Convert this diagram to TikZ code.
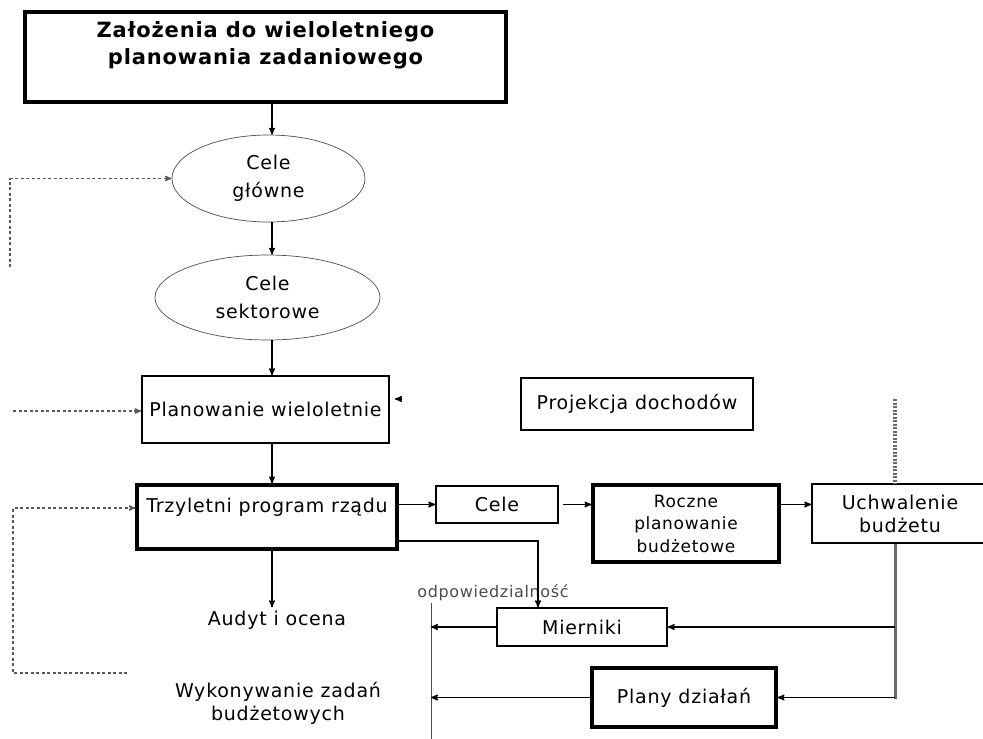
\documentclass[tikz,border=0pt]{standalone}
\usepackage{fontspec}
\setmainfont[LetterSpace=4]{DejaVu Sans}
\usetikzlibrary{positioning, arrows, shapes.geometric}
\tikzset{
>=stealth', % small filled arrow heads
every node/.style={font=\fontsize{19}{23}\selectfont}, % default text size
cel/.style={ellipse, draw=gray!60!black, line width=0.7pt, align=center, inner sep=0pt, font=\fontsize{19}{28}\selectfont}, % goal ellipses
blok/.style={rectangle, draw, line width=1.5pt, align=center, inner sep=0pt}, % plain boxes
gruby/.style={blok, line width=3.2pt}, % boxes with heavy frame
strz/.style={->, line width=1.4pt}, % solid connectors
zwrot/.style={->, black!65, line width=1.3pt, dash pattern=on 3pt off 2.5pt}, % feedback loops
szary/.style={black!58, line width=3pt}, % budget bus line
}

\begin{document}
\begin{tikzpicture}[x=1pt, y=-1pt]
      \useasboundingbox (0,0) rectangle (983,739);
      \node[gruby, minimum width=481, minimum height=90, font=\fontsize{21}{27}\selectfont\bfseries] (zal) at (265.5,57) {Założenia do wieloletniego\\planowania zadaniowego\\\mbox{}};
      \node[cel, minimum width=193, minimum height=87] (glowne) at (268.5,178.5) {Cele\\główne};
      \node[cel, minimum width=225, minimum height=85] (sektor) at (267.5,297.5) {Cele\\sektorowe};
      \node[blok, minimum width=247, minimum height=67] (plan) at (265.5,409.5) {Planowanie wieloletnie};
      \node[gruby, minimum width=260, minimum height=64] (trzy) at (267,517) {Trzyletni program rządu\\\mbox{}};
      \node (audyt) at (277,620) {Audyt i ocena};
      \node[align=center, font=\fontsize{19}{23}\selectfont] (wyk) at (278,703) {Wykonywanie zadań\\budżetowych};
      \node[blok, minimum width=232, minimum height=52] (proj) at (637,404) {Projekcja dochodów};
      \node[blok, minimum width=122, minimum height=37] (cele) at (497,504.5) {Cele};
      \node[gruby, minimum width=186, minimum height=77, font=\fontsize{17}{22.5}\selectfont] (roczne) at (686,523.5) {Roczne\\planowanie\\budżetowe};
      \node[blok, minimum width=176, minimum height=59] (uchw) at (900,513.5) {Uchwalenie\\budżetu};
      \node[blok, minimum width=170, minimum height=38] (mier) at (582,627) {Mierniki};
      \node[gruby, minimum width=184, minimum height=59] (plany) at (684,697.5) {Plany działań};
      \node[text=gray!60!black, font=\fontsize{16}{18}\selectfont] (odp) at (493,593) {odpowiedzialność};
      \coordinate (os) at (272,0);
      \coordinate (stub) at (402,399);
      \coordinate (fb1) at (10,267);
      \coordinate (fb2) at (13,411);
      \coordinate (fb3) at (127,673);
      \coordinate (fb3b) at (13,508);
      \coordinate (brk) at (538,541);
      \coordinate (pion) at (895,699);
      \coordinate (kropki) at (895,399);
      \coordinate (odp1) at (431,603);
      \coordinate (odp2) at (431,739);
      \draw[strz] (zal.south -| os) -- (glowne.north -| os);
      \draw[strz] (glowne.south -| os) -- (sektor.north -| os);
      \draw[strz] (sektor.south -| os) -- (plan.north -| os);
      \draw[strz] (plan.south -| os) -- (trzy.north -| os);
      \draw[strz] (trzy.south -| os) -- (audyt.north -| os);
      \draw[strz] (stub) -- ++(-7,0);
      \draw[zwrot] (fb1) |- (glowne.west);
      \draw[zwrot] (fb2) -- (plan.west |- fb2);
      \draw[zwrot] (fb3) -| (fb3b) -- (trzy.west |- fb3b);
      \draw[strz] (trzy.east |- cele.west) -- (cele.west);
      \draw[strz] ([xshift=4pt]cele.east) -- (roczne.west |- cele.east);
      \draw[strz] (roczne.east |- cele.east) -- (uchw.west |- cele.east);
      \draw[strz] (trzy.east |- brk) -- (brk) -- (brk |- mier.north);
      \draw[szary] (uchw.south -| pion) -- (pion);
      \draw[szary, line width=3.5pt, dash pattern=on 2pt off 1.5pt] (kropki) -- (kropki |- uchw.north);
      \draw[strz] (pion |- mier.east) -- (mier.east);
      \draw[strz] (pion |- plany.east) -- (plany.east);
      \draw[gray!60!black, line width=0.8pt] (odp1) -- (odp2);
      \draw[strz] (mier.west) -- (mier.west -| odp1);
      \draw[strz] (plany.west) -- (plany.west -| odp1);
    \end{tikzpicture}
\end{document}
